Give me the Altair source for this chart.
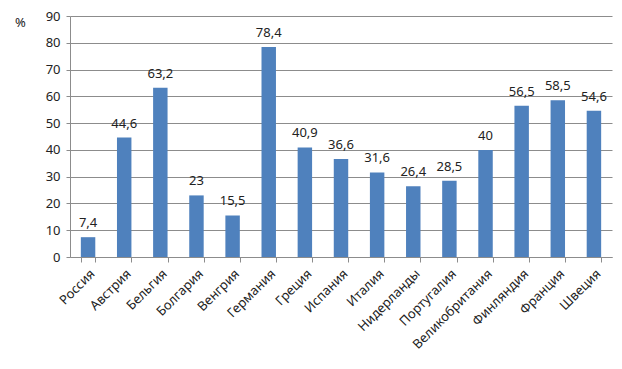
import altair as alt
import pandas as pd

countries = ["Россия", "Австрия", "Бельгия", "Болгария", "Венгрия", "Германия",
             "Греция", "Испания", "Италия", "Нидерланды", "Португалия",
             "Великобритания", "Финляндия", "Франция", "Швеция"]
values = [7.4, 44.6, 63.2, 23, 15.5, 78.4, 40.9, 36.6, 31.6, 26.4, 28.5, 40, 56.5, 58.5, 54.6]
y_ticks = [0, 10, 20, 30, 40, 50, 60, 70, 80, 90]

df = pd.DataFrame({"country": countries, "value": values})
df["label"] = [("%g" % v).replace(".", ",") for v in values]

FONT = "Noto Sans"
GRID = "#8c8c8c"

x = alt.X("country:N", sort=countries, title=None,
          scale=alt.Scale(paddingInner=0.6, paddingOuter=0.3),
          axis=alt.Axis(labelAngle=-45, tickBand="extent", tickSize=5,
                        domainColor=GRID, tickColor=GRID, labelFont=FONT,
                        labelFontSize=13, labelColor="#222222", labelPadding=5))
y = alt.Y("value:Q", title="%",
          scale=alt.Scale(domain=[0, 90], nice=False),
          axis=alt.Axis(values=y_ticks, tickCount=10, grid=True, gridColor=GRID,
                        domainColor=GRID, labelOverlap=False,
                        tickColor=GRID, tickSize=4, labelFont=FONT, labelFontSize=13,
                        labelColor="#222222", labelPadding=6,
                        titleAngle=0, titleX=-50, titleY=6, titleAlign="center",
                        titleBaseline="middle", titleFont=FONT, titleFontSize=13,
                        titleFontWeight="normal", titleColor="#222222"))

base = alt.Chart(df).encode(x=x, y=y)
bars = base.mark_bar(color="#4F81BD")
text = base.mark_text(dy=-14, font=FONT, fontSize=13, color="#222222").encode(text="label:N")

chart = alt.layer(bars, text).properties(
    width=542, height=241,
    autosize=alt.AutoSizeParams(type="none"),
    padding={"left": 62, "top": 8, "right": 2, "bottom": 100},
).configure_view(stroke=None)

chart.save("out.html", embed_options={"renderer": "svg", "actions": False})
